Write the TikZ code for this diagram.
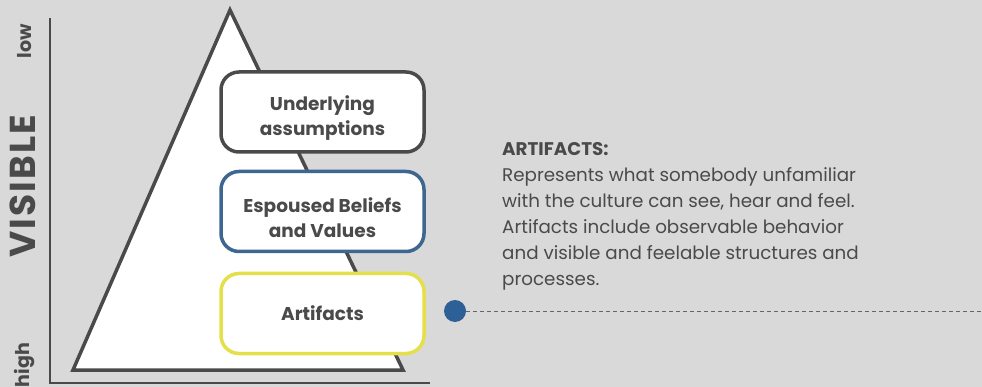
\documentclass[tikz,border=0pt]{standalone}
\usepackage{fontspec}
\setmainfont{Poppins}
\newfontfamily\widefont{Poppins}[LetterSpace=6]
\usetikzlibrary{positioning}
\definecolor{bggray}{HTML}{D9D9D9}
\definecolor{inkgray}{HTML}{4A4A4A}
\definecolor{layerblue}{HTML}{3D6690}
\definecolor{layeryellow}{HTML}{E5DF4A}
\definecolor{dotblue}{HTML}{2D6096}
\newcommand{\layerstrut}{\rule{0pt}{27pt}}
\tikzset{
  layer/.style={draw=#1,line width=3.5pt,fill=white,rounded corners=18pt,
    minimum width=203pt,minimum height=80pt,align=center,
    text=inkgray,font=\fontsize{18.5}{25}\selectfont\bfseries},
  axislabel/.style={rotate=90,text=inkgray,font=\fontsize{19}{21}\selectfont\bfseries},
}
\begin{document}
\begin{tikzpicture}[x=1pt,y=-1pt]
       \fill[bggray] (0,0) rectangle (982,387);
       \useasboundingbox (0,0) rectangle (982,387);
       \draw[inkgray,line width=1.2pt] (50,18) -- (50,383) -- (430,383);
       \draw[inkgray,line width=3.5pt,fill=white,line join=miter]
         (230,10) -- (403,370) -- (73,370) -- cycle;
       \node[layer=inkgray] (assume) at (322.5,112) {\layerstrut Underlying\\assumptions};
       \node[layer=layerblue] (beliefs) at (322.5,211.5) {\layerstrut Espoused Beliefs\\and Values};
       \node[layer=layeryellow] (artifacts) at (322.5,313.5) {Artifacts};
       \node[axislabel] (low) at (25,41) {low};
       \node[axislabel,font=\fontsize{36}{38}\selectfont\widefont\bfseries] (visible) at (23,186) {VISIBLE};
       \node[axislabel] (high) at (25,365) {high};
       \node[circle,fill=dotblue,inner sep=0pt,minimum size=22pt] (dot) at (455,311) {};
       \coordinate (edge) at (982,311);
       \draw[gray!80!black,dashed,line width=0.8pt,dash pattern=on 4pt off 3pt] (dot) -- (edge);
       \node[anchor=north west,align=left,inner sep=0pt,text=inkgray,
         font=\fontsize{18.3}{26}\selectfont] (desc) at (502,142)
         {\textbf{ARTIFACTS:}\\
          Represents what somebody unfamiliar\\
          with the culture can see, hear and feel.\\
          Artifacts include observable behavior\\
          and visible and feelable structures and\\
          processes.};
\end{tikzpicture}
\end{document}
